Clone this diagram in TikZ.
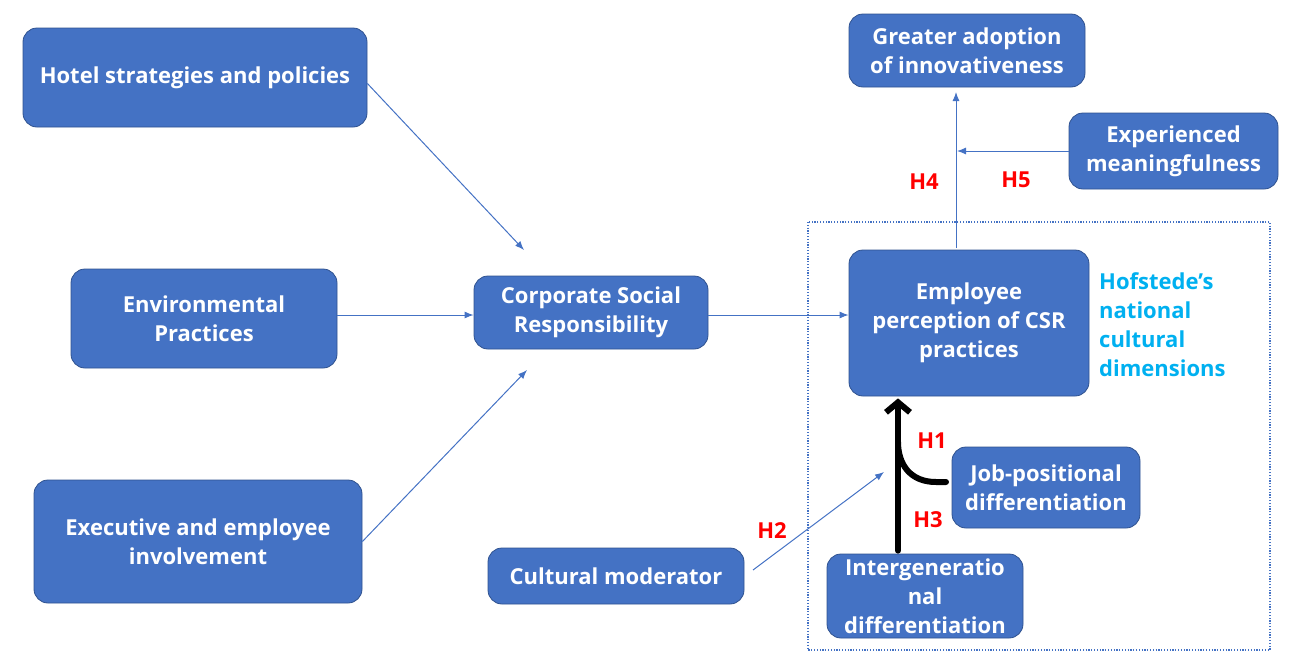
\documentclass[tikz,border=0pt]{standalone}
\usepackage{fontspec}
\setmainfont{Open Sans}
\usetikzlibrary{arrows.meta,calc}
\definecolor{boxblue}{HTML}{4472C4}
\definecolor{boxedge}{HTML}{2F528F}
\definecolor{hred}{HTML}{FF0000}
\definecolor{hcyan}{HTML}{00B0F0}
\tikzset{
  box/.style={draw=boxedge, line width=0.8pt, fill=boxblue, rounded corners=14pt,
    text=white, font=\bfseries\fontsize{22}{29}\selectfont, align=center, inner sep=0pt},
  link/.style={draw=boxblue, line width=1pt, -{Latex[length=9pt,width=7pt]}},
  hlabel/.style={text=hred, font=\bfseries\fontsize{22}{26}\selectfont, inner sep=0pt},
  thick path/.style={draw=black, line width=6pt, line cap=round},
}
\begin{document}
\begin{tikzpicture}[x=1pt, y=-1pt]
\useasboundingbox (0,0) rectangle (1299,659);

% boxes on the left
\node[box, minimum width=344pt, minimum height=99pt] (hotel) at (195,77.5) {Hotel strategies and policies};
\node[box, minimum width=266pt, minimum height=99pt] (env) at (204,318.5) {Environmental\\Practices};
\node[box, minimum width=328pt, minimum height=123pt] (exec) at (198,541.5) {Executive and employee\\involvement};

% centre
\node[box, minimum width=234pt, minimum height=73pt] (csr) at (591,312.5) {Corporate Social\\Responsibility};
\node[box, minimum width=256pt, minimum height=56pt] (cult) at (616,576) {Cultural moderator};

% right-hand side
\node[box, minimum width=240pt, minimum height=146pt] (emp) at (969,323) {Employee\\perception of CSR\\practices};
\node[box, minimum width=236pt, minimum height=73pt] (great) at (967,50.5) {Greater adoption\\of innovativeness};
\node[box, minimum width=209pt, minimum height=76pt] (exper) at (1173.5,151) {Experienced\\meaningfulness};
\node[box, minimum width=188pt, minimum height=81pt] (job) at (1046,487.5) {Job-positional\\differentiation};
\node[box, minimum width=196pt, minimum height=84pt] (inter) at (925,596) {Intergeneratio\\nal\\differentiation};

\node[anchor=west, align=left, text=hcyan, inner sep=0pt,
      font=\bfseries\fontsize{22}{29}\selectfont] (hof) at (1099,325)
      {Hofstede’s\\national\\cultural\\dimensions};

% dotted frame
\draw[boxblue, line width=1.2pt, dash pattern=on 1.2pt off 1.6pt] (808,222) rectangle (1270,650);

% free ends of the thin connectors
\coordinate (row) at (0,315);
\coordinate (csrIn1) at (524,250);
\coordinate (csrIn3) at (527,370);
\coordinate (h2end) at (884,472);
\coordinate (h2start) at (753,570);
\coordinate (empOut) at (956,248);
\coordinate (greatIn) at (956,92);
\coordinate (joinH5) at (957,151);

\draw[link] ($(hotel.east)+(0,6)$) -- (csrIn1);
\draw[link] (env.east|-row) -- (csr.west|-row);
\draw[link] (exec.east) -- (csrIn3);
\draw[link] (csr.east|-row) -- (emp.west|-row);
\draw[link] (empOut) -- (greatIn);
\draw[link] (exper.west) -- (joinH5);
\draw[link] (h2start) -- (h2end);

% thick moderated path
\coordinate (interTop) at ($(inter.north)+(-27,-3)$);
\coordinate (empBot) at ($(emp.south)+(-71,2)$);
\coordinate (jobOut) at (946,482);
\coordinate (joinH1) at (898,442);
\draw[thick path, -{Straight Barb[length=10pt,width=24pt]}] (interTop) -- (empBot);
\draw[thick path] (jobOut) -- ++(-10,0) .. controls +(-26,0) and ($(joinH1)+(0,22)$) .. (joinH1);

% hypothesis labels
\node[hlabel] (H1) at (932,441) {H1};
\node[hlabel] (H2) at (772,531) {H2};
\node[hlabel] (H3) at (928,520) {H3};
\node[hlabel] (H4) at (924,182) {H4};
\node[hlabel] (H5) at (1016,180) {H5};
\end{tikzpicture}
\end{document}
